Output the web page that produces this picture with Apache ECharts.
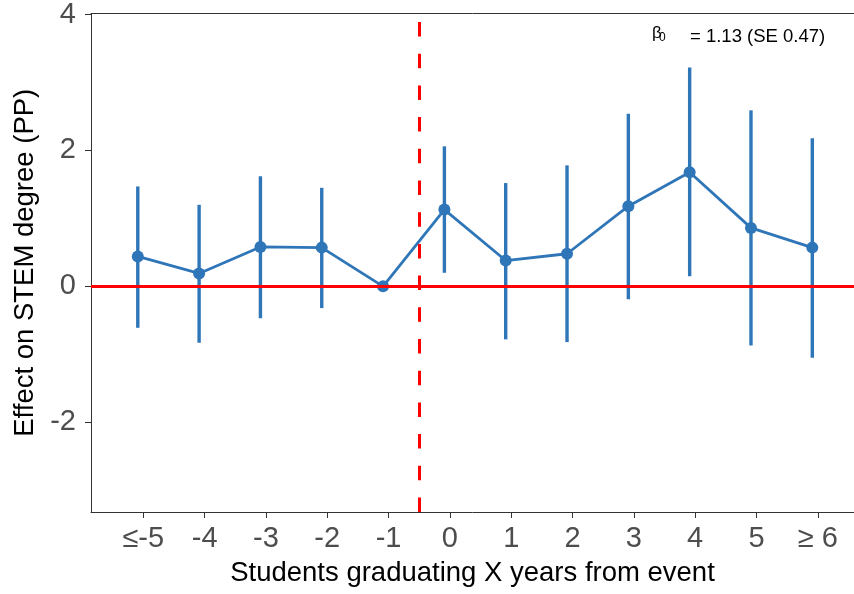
<!DOCTYPE html>
<html><head><meta charset="utf-8">
<script src="https://cdn.jsdelivr.net/npm/echarts@6/dist/echarts.min.js"></script>
<style>html,body{margin:0;padding:0;background:#fff}#c{width:854px;height:594px}</style>
</head><body><div id="c"></div>
<script>
const categories = ['≤-5','-4','-3','-2','-1','0','1','2','3','4','5','≥ 6'];
const estimates = [0.44, 0.19, 0.58, 0.57, 0, 1.13, 0.38, 0.48, 1.18, 1.68, 0.86, 0.57];
const ciLower  = [-0.61, -0.83, -0.47, -0.32, null, 0.20, -0.78, -0.82, -0.19, 0.15, -0.87, -1.05];
const ciUpper  = [1.47, 1.20, 1.62, 1.45, null, 2.06, 1.52, 1.78, 2.54, 3.22, 2.59, 2.18];
const yTicks = [-2, 0, 2, 4];
const eventLine = 4.5;   // between -1 and 0
const annotationMain = '= 1.13 (SE 0.47)';

const FONT = '"Liberation Sans", Arial, Helvetica, sans-serif';
const BLUE = '#2f76b8';
const dodge = -0.09;
const X_MIN = -0.853, X_MAX = 11.59, Y_MIN = -3.32, Y_MAX = 4.015;
const tickIdx = categories.map((c, i) => i);

const pointData = estimates.map((v, i) => [i + dodge, v]);
const barData = [];
categories.forEach((c, i) => {
  if (ciLower[i] !== null && ciUpper[i] !== null) barData.push([i + dodge, ciLower[i], ciUpper[i]]);
});

const chart = echarts.init(document.getElementById('c'), null, {renderer: 'canvas'});
chart.setOption({
  animation: false,
  backgroundColor: '#fff',
  grid: {left: 91, right: 0, top: 13, bottom: 82, containLabel: false},
  xAxis: [{
    type: 'value', min: X_MIN, max: X_MAX,
    axisLine: {show: true, onZero: false, lineStyle: {color: '#333', width: 1}},
    axisTick: {show: true, customValues: tickIdx, length: 6, lineStyle: {color: '#333', width: 1}},
    axisLabel: {customValues: tickIdx, formatter: v => categories[Math.round(v)],
      fontSize: 29, color: '#4d4d4d', margin: 12, fontFamily: FONT},
    splitLine: {show: false},
    name: 'Students graduating X years from event', nameLocation: 'middle', nameGap: 47,
    nameTextStyle: {fontSize: 27.5, color: '#000', fontFamily: FONT}
  }, {
    type: 'value', position: 'top', min: X_MIN, max: X_MAX,
    axisLine: {show: true, onZero: false, lineStyle: {color: '#333', width: 1}},
    axisTick: {show: false}, axisLabel: {show: false}, splitLine: {show: false}
  }],
  yAxis: {
    type: 'value', min: Y_MIN, max: Y_MAX,
    axisLine: {show: true, onZero: false, lineStyle: {color: '#333', width: 1}},
    axisTick: {show: true, customValues: yTicks, length: 6, lineStyle: {color: '#333', width: 1}},
    axisLabel: {customValues: yTicks, fontSize: 29, color: '#4d4d4d', margin: 15, fontFamily: FONT},
    splitLine: {show: false},
    name: 'Effect on STEM degree (PP)', nameLocation: 'middle', nameGap: 45, nameRotate: 90,
    nameTextStyle: {fontSize: 27.5, color: '#000', fontFamily: FONT}
  },
  series: [{
    type: 'line', data: [], z: 1, silent: true,
    markLine: {
      silent: true, symbol: 'none', label: {show: false}, animation: false,
      data: [
        {yAxis: 0, lineStyle: {color: '#ff0000', width: 3, type: 'solid'}},
        [{coord: [eventLine, Y_MIN], lineStyle: {color: '#ff0000', width: 3, type: [14.5, 17.2]}},
         {coord: [eventLine, Y_MAX]}]
      ]
    }
  }, {
    type: 'custom', z: 2, silent: true,
    data: barData,
    encode: {x: 0, y: [1, 2]},
    renderItem: (params, api) => {
      const x = api.value(0);
      const p1 = api.coord([x, api.value(1)]);
      const p2 = api.coord([x, api.value(2)]);
      return {type: 'line', shape: {x1: p1[0], y1: p1[1], x2: p2[0], y2: p2[1]},
        style: {stroke: BLUE, lineWidth: 3.4, lineCap: 'butt'}};
    }
  }, {
    type: 'line', z: 3, silent: true,
    data: pointData,
    symbol: 'circle', symbolSize: 12, showSymbol: true,
    itemStyle: {color: BLUE},
    lineStyle: {color: BLUE, width: 2.8}
  }],
  graphic: [
    {type: 'text', left: 652, top: 25, style: {text: 'β', font: '17px ' + FONT, fill: '#000'}},
    {type: 'text', left: 659, top: 31.5, style: {text: '0', font: '12px ' + FONT, fill: '#000'}},
    {type: 'text', left: 690, top: 27, style: {text: annotationMain, font: '18.5px ' + FONT, fill: '#000'}}
  ]
});
</script>
</body></html>
